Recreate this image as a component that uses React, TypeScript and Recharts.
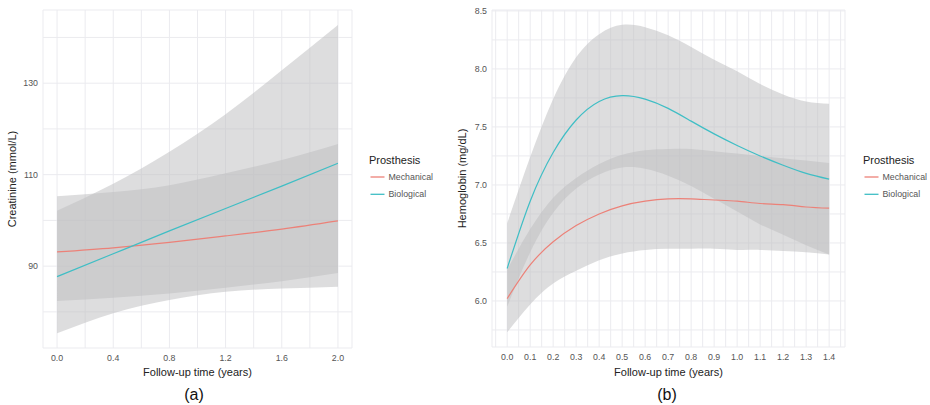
import { ComposedChart, Area, Line, XAxis, YAxis, CartesianGrid } from "recharts";

const FONT = "'Liberation Sans', Arial, Helvetica, sans-serif";

const COLORS = {
  mechanical: "#ec8178",
  biological: "#3fbec5",
  band: "#bfbfc1",
  grid: "#ebebef",
  tick: "#555555",
  title: "#222222",
};

// Creatinine panel (a)
const creatTime = [0, 0.4, 0.8, 1.2, 1.6, 2.0];
const creatMechFit = [93.1, 94.0, 95.2, 96.6, 98.1, 99.9];
const creatMechLow = [82.4, 83.1, 84.0, 85.3, 86.7, 88.5];
const creatMechHigh = [105.3, 106.2, 107.7, 110.3, 113.2, 116.7];
const creatBioFit = [87.7, 92.7, 97.7, 102.6, 107.5, 112.5];
const creatBioLow = [75.3, 79.7, 82.6, 84.4, 85.1, 85.5];
const creatBioHigh = [102.1, 108.0, 115.0, 123.2, 132.8, 142.7];
const creatTimeTicks = [0, 0.4, 0.8, 1.2, 1.6, 2.0];
const creatTimeMinor = [0.2, 0.6, 1.0, 1.4, 1.8];
const creatTicks = [90, 110, 130];
const creatMinor = [80, 100, 120, 140];

// Hemoglobin panel (b)
const hbTime = [0, 0.1, 0.2, 0.3, 0.4, 0.5, 0.6, 0.7, 0.8, 0.9, 1.0, 1.1, 1.2, 1.3, 1.4];
const hbMechFit = [6.02, 6.31, 6.51, 6.65, 6.75, 6.82, 6.86, 6.88, 6.88, 6.87, 6.86, 6.84, 6.83, 6.81, 6.8];
const hbMechLow = [5.73, 5.97, 6.15, 6.26, 6.35, 6.41, 6.44, 6.45, 6.45, 6.45, 6.44, 6.44, 6.43, 6.42, 6.4];
const hbMechHigh = [6.27, 6.62, 6.89, 7.06, 7.18, 7.26, 7.3, 7.31, 7.31, 7.29, 7.27, 7.25, 7.23, 7.21, 7.19];
const hbBioFit = [6.28, 6.86, 7.28, 7.56, 7.72, 7.77, 7.74, 7.66, 7.55, 7.44, 7.34, 7.25, 7.17, 7.1, 7.05];
const hbBioLow = [5.95, 6.42, 6.76, 6.97, 7.09, 7.15, 7.14, 7.08, 6.99, 6.88, 6.77, 6.66, 6.57, 6.48, 6.4];
const hbBioHigh = [6.67, 7.24, 7.74, 8.1, 8.3, 8.38, 8.36, 8.29, 8.19, 8.08, 7.98, 7.87, 7.78, 7.72, 7.7];
const hbTimeTicks = [0, 0.1, 0.2, 0.3, 0.4, 0.5, 0.6, 0.7, 0.8, 0.9, 1.0, 1.1, 1.2, 1.3, 1.4];
const hbTimeMinor = [-0.05, 0.05, 0.15, 0.25, 0.35, 0.45, 0.55, 0.65, 0.75, 0.85, 0.95, 1.05, 1.15, 1.25, 1.35, 1.45];
const hbTicks = [6.0, 6.5, 7.0, 7.5, 8.0, 8.5];
const hbMinor = [5.75, 6.25, 6.75, 7.25, 7.75, 8.25];

const SERIES = [
  { name: "Mechanical", color: COLORS.mechanical },
  { name: "Biological", color: COLORS.biological },
];

type Row = {
  t: number;
  mechFit: number;
  mechBand: [number, number];
  bioFit: number;
  bioBand: [number, number];
};

const buildRows = (
  time: number[],
  mechFit: number[],
  mechLow: number[],
  mechHigh: number[],
  bioFit: number[],
  bioLow: number[],
  bioHigh: number[]
): Row[] =>
  time.map((t, i) => ({
    t,
    mechFit: mechFit[i],
    mechBand: [mechLow[i], mechHigh[i]],
    bioFit: bioFit[i],
    bioBand: [bioLow[i], bioHigh[i]],
  }));

const withMinor = (major: number[], minor: number[]) => [...major, ...minor].sort((a, b) => a - b);

// only the major breaks get a printed label, minor ones just draw grid lines
const labelMajor = (major: number[], digits: number) => (v: number) =>
  major.some((m) => Math.abs(m - v) < 1e-9) ? v.toFixed(digits) : "";

const tickStyle = { fontSize: 8.8, fill: COLORS.tick, fontFamily: FONT };
const titleStyle = { fontSize: 11, fill: COLORS.title, fontFamily: FONT };

interface PanelProps {
  left: number;
  width: number;
  rightMargin: number;
  yAxisWidth: number;
  xAxisHeight: number;
  rows: Row[];
  xDomain: [number, number];
  xMajor: number[];
  xMinor: number[];
  yDomain: [number, number];
  yMajor: number[];
  yMinor: number[];
  yDigits: number;
  yTitle: string;
  caption: string;
  captionX: number;
  legendX: number;
}

const SmoothPanel = (p: PanelProps) => (
  <div style={{ position: "absolute", left: p.left, top: 0 }}>
    <ComposedChart
      width={p.width}
      height={385}
      data={p.rows}
      margin={{ top: 10, right: p.rightMargin, bottom: 0, left: 0 }}
    >
      <CartesianGrid stroke={COLORS.grid} strokeWidth={1} />
      <XAxis
        dataKey="t"
        type="number"
        domain={p.xDomain}
        allowDataOverflow
        ticks={withMinor(p.xMajor, p.xMinor)}
        tickFormatter={labelMajor(p.xMajor, 1)}
        interval={0}
        height={p.xAxisHeight}
        axisLine={false}
        tickLine={false}
        tickSize={5}
        tickMargin={2}
        tick={tickStyle}
        label={{
          value: "Follow-up time (years)",
          position: "insideBottom",
          offset: 9,
          style: titleStyle,
        }}
      />
      <YAxis
        type="number"
        domain={p.yDomain}
        allowDataOverflow
        ticks={withMinor(p.yMajor, p.yMinor)}
        tickFormatter={labelMajor(p.yMajor, p.yDigits)}
        interval={0}
        width={p.yAxisWidth}
        axisLine={false}
        tickLine={false}
        tickSize={3}
        tickMargin={2}
        tick={tickStyle}
        label={{
          value: p.yTitle,
          angle: -90,
          position: "insideLeft",
          offset: 12,
          style: { ...titleStyle, textAnchor: "middle" },
        }}
      />
      <Area
        dataKey="mechBand"
        type="natural"
        stroke="none"
        fill={COLORS.band}
        fillOpacity={0.53}
        isAnimationActive={false}
        activeDot={false}
      />
      <Line
        dataKey="mechFit"
        type="natural"
        stroke={COLORS.mechanical}
        strokeWidth={1.2}
        dot={false}
        activeDot={false}
        isAnimationActive={false}
      />
      <Area
        dataKey="bioBand"
        type="natural"
        stroke="none"
        fill={COLORS.band}
        fillOpacity={0.53}
        isAnimationActive={false}
        activeDot={false}
      />
      <Line
        dataKey="bioFit"
        type="natural"
        stroke={COLORS.biological}
        strokeWidth={1.2}
        dot={false}
        activeDot={false}
        isAnimationActive={false}
      />
    </ComposedChart>
    <svg
      width={110}
      height={60}
      style={{ position: "absolute", left: p.legendX - p.left, top: 148 }}
    >
      <text x={0} y={12} dominantBaseline="central" style={{ ...titleStyle }}>
        Prosthesis
      </text>
      {SERIES.map((s, i) => (
        <g key={s.name}>
          <line x1={1.5} x2={15.5} y1={29 + i * 17.3} y2={29 + i * 17.3} stroke={s.color} strokeWidth={1.3} />
          <text x={19.5} y={29 + i * 17.3} dominantBaseline="central" style={tickStyle}>
            {s.name}
          </text>
        </g>
      ))}
    </svg>
    <div
      style={{
        position: "absolute",
        left: p.captionX - p.left - 40,
        top: 386,
        width: 80,
        textAlign: "center",
        fontFamily: FONT,
        fontSize: 16,
        lineHeight: "18px",
        color: "#111",
      }}
    >
      {p.caption}
    </div>
  </div>
);

const App = () => {
  const creatRows = buildRows(creatTime, creatMechFit, creatMechLow, creatMechHigh, creatBioFit, creatBioLow, creatBioHigh);
  const hbRows = buildRows(hbTime, hbMechFit, hbMechLow, hbMechHigh, hbBioFit, hbBioLow, hbBioHigh);

  return (
    <div
      style={{
        position: "absolute",
        left: 0,
        top: 0,
        width: 930,
        height: 405,
        background: "#ffffff",
        overflow: "hidden",
        fontFamily: FONT,
      }}
    >
      <SmoothPanel
        left={0}
        width={465}
        rightMargin={113}
        yAxisWidth={43}
        xAxisHeight={37}
        rows={creatRows}
        xDomain={[-0.1, 2.1]}
        xMajor={creatTimeTicks}
        xMinor={creatTimeMinor}
        yDomain={[72.1, 146.0]}
        yMajor={creatTicks}
        yMinor={creatMinor}
        yDigits={0}
        yTitle="Creatinine (mmol/L)"
        caption="(a)"
        captionX={194}
        legendX={369}
      />
      <SmoothPanel
        left={450}
        width={480}
        rightMargin={85}
        yAxisWidth={42}
        xAxisHeight={38}
        rows={hbRows}
        xDomain={[-0.066, 1.469]}
        xMajor={hbTimeTicks}
        xMinor={hbTimeMinor}
        yDomain={[5.603, 8.508]}
        yMajor={hbTicks}
        yMinor={hbMinor}
        yDigits={1}
        yTitle="Hemoglobin (mg/dL)"
        caption="(b)"
        captionX={667}
        legendX={863}
      />
    </div>
  );
};

export default App;
